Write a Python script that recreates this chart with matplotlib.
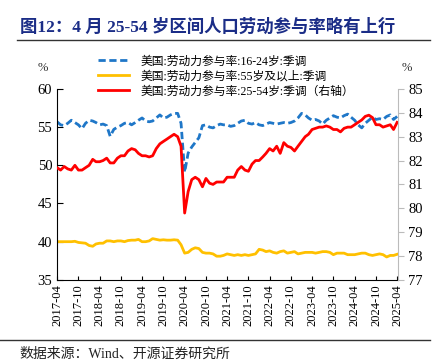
import numpy as np
import pandas as pd
import matplotlib
matplotlib.use("Agg")
import matplotlib.pyplot as plt
from matplotlib.lines import Line2D

plt.rcParams['font.family'] = ['Liberation Serif', 'Noto Sans CJK SC', 'DejaVu Sans']

### data (monthly, 2017-04 .. 2025-04)
dates = pd.date_range("2017-04-01", "2025-04-01", freq="MS")

youth_16_24 = [55.7, 55.3, 55.2, 55.5, 55.9, 55.6, 55.3, 54.8, 55.5, 55.9, 55.8, 55.6,
               55.3, 55.4, 55.2, 53.8, 54.7, 55.0, 55.2, 55.5, 55.6, 55.3, 55.6, 55.9,
               56.2, 55.8, 55.7, 55.8, 56.2, 56.6, 56.2, 56.3, 56.6, 56.8, 56.8, 55.5,
               49.1, 51.6, 52.4, 53.0, 53.6, 55.2, 55.3, 55.0, 54.9, 55.2, 55.4, 55.3,
               55.3, 55.1, 55.2, 55.5, 55.8, 55.9, 55.5, 55.4, 55.6, 55.3, 55.2, 55.4,
               55.6, 55.5, 55.4, 55.5, 55.6, 55.5, 55.6, 55.8, 56.2, 56.8, 56.6, 56.2,
               55.9, 56.0, 55.8, 55.4, 55.9, 56.2, 56.5, 56.3, 56.2, 56.5, 56.7, 56.3,
               55.9, 55.3, 54.9, 55.5, 55.9, 56.3, 56.0, 56.1, 56.0, 56.4, 56.6, 56.0,
               56.4]

senior_55 = [40.0, 40.0, 40.0, 40.0, 40.0, 40.05, 39.9, 39.85, 39.8, 39.5, 39.4, 39.7,
             39.8, 39.8, 40.1, 40.1, 40.0, 40.1, 40.1, 40.0, 40.15, 40.2, 40.2, 40.3,
             40.0, 40.0, 40.1, 40.4, 40.3, 40.2, 40.25, 40.2, 40.2, 40.25, 40.2, 39.6,
             38.5, 38.6, 39.0, 39.2, 39.1, 38.6, 38.5, 38.5, 38.4, 38.1, 38.1, 38.2,
             38.4, 38.3, 38.2, 38.3, 38.2, 38.3, 38.2, 38.3, 38.4, 39.0, 38.9, 38.7,
             38.8, 38.6, 38.5, 38.7, 38.8, 38.5, 38.6, 38.7, 38.4, 38.5, 38.6, 38.6,
             38.6, 38.5, 38.6, 38.7, 38.7, 38.6, 38.3, 38.5, 38.5, 38.5, 38.3, 38.3,
             38.3, 38.4, 38.5, 38.5, 38.3, 38.2, 38.3, 38.4, 38.3, 38.0, 38.2, 38.2,
             38.35]

prime_25_54 = [81.7, 81.6, 81.75, 81.65, 81.6, 81.8, 81.6, 81.6, 81.7, 81.8, 82.05, 81.95,
               81.95, 82.0, 82.1, 81.9, 81.9, 82.1, 82.2, 82.2, 82.4, 82.5, 82.45, 82.3,
               82.2, 82.2, 82.15, 82.2, 82.5, 82.7, 82.8, 82.9, 83.0, 83.1, 83.0, 82.6,
               79.8, 80.7, 81.2, 81.3, 81.2, 80.9, 81.25, 81.05, 81.0, 81.1, 81.1, 81.1,
               81.3, 81.3, 81.3, 81.6, 81.75, 81.6, 81.55, 81.85, 82.0, 82.0, 82.15, 82.3,
               82.5, 82.4, 82.6, 82.3, 82.75, 82.6, 82.55, 82.4, 82.6, 82.8, 83.0, 83.1,
               83.3, 83.35, 83.4, 83.4, 83.45, 83.4, 83.3, 83.3, 83.2, 83.35, 83.4, 83.4,
               83.5, 83.6, 83.7, 83.85, 83.9, 83.8, 83.5, 83.5, 83.4, 83.45, 83.5, 83.3,
               83.6]

labels = ["美国:劳动力参与率:16-24岁:季调",
          "美国:劳动力参与率:55岁及以上:季调",
          "美国:劳动力参与率:25-54岁:季调（右轴）"]

title = "图12：4 月 25-54 岁区间人口劳动参与率略有上行"
source = "数据来源：Wind、开源证券研究所"

#===========================================================#

fig = plt.figure(figsize=(4.36, 3.63), dpi=100)
ax = fig.add_axes([0.131, 0.229, 0.782, 0.526])
ax2 = ax.twinx()

c_blue = '#1F77C8'
c_yel = '#FFC000'
c_red = '#FF0000'
dash = (0, (2.6, 1.3))

ax.plot(dates, youth_16_24, color=c_blue, lw=2, ls=dash)
ax.plot(dates, senior_55, color=c_yel, lw=2)
ax2.plot(dates, prime_25_54, color=c_red, lw=2)

ax.set_ylim(35, 60)
ax.set_yticks(np.arange(35, 61, 5))
ax2.set_ylim(77, 85)
ax2.set_yticks(np.arange(77, 86, 1))

ax.set_xlim(dates[0], dates[-1] + pd.Timedelta(days=8))
ticks = dates[::6]
ax.set_xticks(ticks)
ax.set_xticklabels([d.strftime("%Y-%m") for d in ticks], rotation=90, fontsize=9)
ax.tick_params(axis='x', direction='in', length=3)
ax.tick_params(axis='y', direction='in', length=4, labelsize=10.5)
ax2.tick_params(axis='y', direction='out', length=4, labelsize=10.5, color='#BBBBBB')

for a in (ax, ax2):
    a.spines['top'].set_visible(False)
ax.spines['right'].set_visible(False)
ax2.spines['left'].set_visible(False)
ax2.spines['bottom'].set_visible(False)
ax2.spines['right'].set_color('#BBBBBB')

fig.text(0.098, 0.813, "%", fontsize=9, ha='center', va='center', color='#333333')
fig.text(0.932, 0.813, "%", fontsize=9, ha='center', va='center', color='#333333')

handles = [Line2D([], [], color=c_blue, lw=2, ls=dash),
           Line2D([], [], color=c_yel, lw=2),
           Line2D([], [], color=c_red, lw=2)]
fig.legend(handles, labels, loc='upper left', bbox_to_anchor=(0.215, 0.86),
           frameon=False, fontsize=8.5, handlelength=2.6, handletextpad=1.0,
           labelspacing=0.25, borderaxespad=0)

fig.text(0.045, 0.925, title, fontsize=12.5, fontweight='bold', color='#1B2D87',
         ha='left', va='center')
fig.add_artist(Line2D([0.04, 0.987], [0.89, 0.89], color='#333333', lw=1))
fig.add_artist(Line2D([0.0, 0.987], [0.063, 0.063], color='#333333', lw=1))
fig.text(0.045, 0.025, source, fontsize=10, ha='left', va='center', color='#222222')

plt.savefig("out.png", dpi=100)
